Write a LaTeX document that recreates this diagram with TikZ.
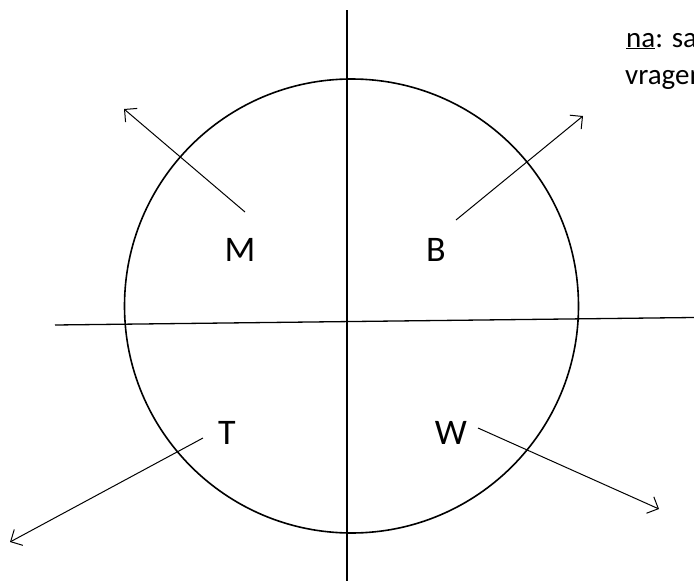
\documentclass[tikz,border=0pt]{standalone}
\usepackage{fontspec}
\setmainfont{Carlito}
\usetikzlibrary{arrows.meta}
\begin{document}
\begin{tikzpicture}[x=1pt,y=-1pt,
  axis/.style={line width=1.3pt},
  ring/.style={circle,draw,line width=1.6pt,minimum size=454pt,inner sep=0pt},
  ray/.style={line width=1pt,-{Straight Barb[length=9pt,width=18pt,line width=1pt]}},
  lbl/.style={font=\fontsize{36}{42}\selectfont,inner sep=0pt},
  note/.style={font=\fontsize{29}{36}\selectfont,anchor=base west,inner sep=0pt}]
\useasboundingbox (0,0) rectangle (694,581);
\clip (0,0) rectangle (694,581);
\node[ring] (c) at (351.5,306) {};
\coordinate (vt) at (347,10);
\coordinate (vb) at (347,581);
\coordinate (hl) at (55,325);
\coordinate (hr) at (694,317.5);
\draw[axis] (vt) -- (vb);
\draw[axis] (hl) -- (hr);
\node[lbl] (M) at (240,250) {M};
\node[lbl] (B) at (436,250) {B};
\node[lbl] (T) at (227,433) {T};
\node[lbl] (W) at (451,433) {W};
\coordinate (m0) at (245,212); \coordinate (m1) at (124,109);
\coordinate (b0) at (456,220); \coordinate (b1) at (583,116);
\coordinate (t0) at (203,438); \coordinate (t1) at (10,542);
\coordinate (w0) at (478,428); \coordinate (w1) at (659,509);
\draw[ray] (m0) -- (m1);
\draw[ray] (b0) -- (b1);
\draw[ray] (t0) -- (t1);
\draw[ray] (w0) -- (w1);
\node[note] (n1) at (626,47) {\underline{na}: sa};
\node[note] (n2) at (625,84) {vragen};
\end{tikzpicture}
\end{document}
